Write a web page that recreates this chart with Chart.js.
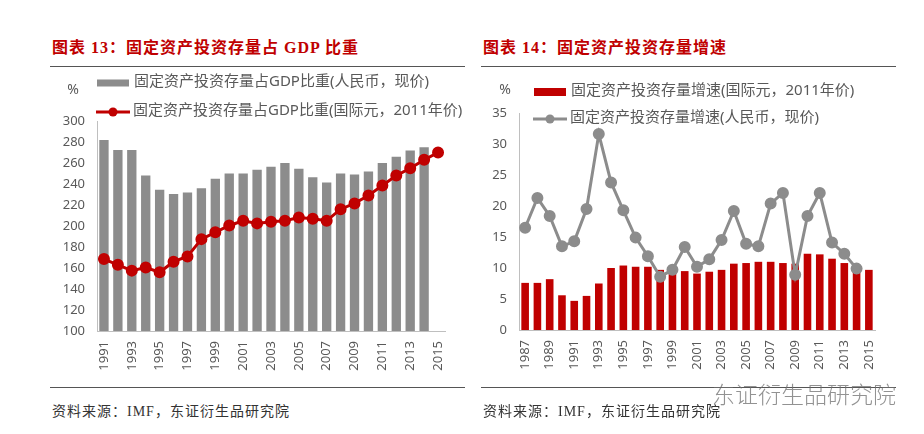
<!DOCTYPE html>
<html>
<head>
<meta charset="utf-8">
<script src="https://cdn.jsdelivr.net/npm/chart.js@4"></script>
<style>
  body { margin: 0; background: #fff; width: 924px; height: 434px; position: relative; overflow: hidden; }
  .title { position: absolute; top: 34px; font: bold 16px "Liberation Serif", "Noto Sans CJK SC"; color: #c00000; letter-spacing: 1px; white-space: nowrap; }
  .rule { position: absolute; height: 0; border-top: 1.5px solid #555; }
  .foot { position: absolute; top: 400px; font: 14px "Liberation Serif", "Noto Sans CJK SC"; color: #333; letter-spacing: 1px; white-space: nowrap; }
  .box { position: absolute; top: 70px; width: 415px; height: 315px; }
  .mark { position: absolute; left: 712px; top: 376px; font: 300 23px "Noto Sans CJK SC"; color: rgba(110,110,110,0.75); white-space: nowrap; }
</style>
</head>
<body>
<div class="title" style="left:52px">图表 13：固定资产投资存量占 GDP 比重</div>
<div class="title" style="left:483px">图表 14：固定资产投资存量增速</div>
<div class="rule" style="left:50px;width:415px;top:66px"></div>
<div class="rule" style="left:481px;width:415px;top:66px"></div>
<div class="box" style="left:50px"><canvas id="left"></canvas></div>
<div class="box" style="left:480px"><canvas id="right"></canvas></div>
<div class="rule" style="left:50px;width:415px;top:387px"></div>
<div class="rule" style="left:481px;width:415px;top:387px"></div>
<div class="foot" style="left:52px">资料来源：IMF，东证衍生品研究院</div>
<div class="foot" style="left:483px">资料来源：IMF，东证衍生品研究院</div>
<div class="mark">东证衍生品研究院</div>
<script>
// 图表13 数据
var years13 = ["1991","1992","1993","1994","1995","1996","1997","1998","1999","2000","2001","2002","2003","2004","2005","2006","2007","2008","2009","2010","2011","2012","2013","2014","2015"];
var shareRmb = [282, 272.5, 272.5, 248, 234.5, 230.5, 232, 236, 245, 250, 250, 253.5, 256.5, 260, 254.5, 246.5, 241.5, 250, 249, 252, 260, 266, 272, 275, null];
var shareIntl = [168.5, 163, 157.5, 160.5, 156, 166, 171, 187.5, 194, 200.5, 205, 202.5, 204, 205, 208, 207, 205, 216, 221.5, 229, 238.5, 248, 255, 263, 270];
var label13a = "固定资产投资存量占GDP比重(人民币，现价)";
var label13b = "固定资产投资存量占GDP比重(国际元，2011年价)";

// 图表14 数据
var years14 = ["1987","1988","1989","1990","1991","1992","1993","1994","1995","1996","1997","1998","1999","2000","2001","2002","2003","2004","2005","2006","2007","2008","2009","2010","2011","2012","2013","2014","2015"];
var growthIntl = [7.6, 7.6, 8.2, 5.6, 4.7, 5.5, 7.5, 10.0, 10.4, 10.2, 10.2, 9.7, 9.5, 9.5, 9.1, 9.4, 9.7, 10.7, 10.8, 11.0, 11.0, 10.8, 10.7, 12.3, 12.2, 11.5, 10.8, 9.9, 9.7];
var growthRmb = [16.5, 21.3, 18.4, 13.5, 14.3, 19.5, 31.6, 23.8, 19.3, 14.9, 11.9, 8.6, 9.7, 13.4, 10.2, 11.4, 14.5, 19.2, 13.9, 13.5, 20.4, 22.1, 8.9, 18.4, 22.1, 14.1, 12.3, 9.9, null];
var label14a = "固定资产投资存量增速(国际元，2011年价)";
var label14b = "固定资产投资存量增速(人民币，现价)";

var GREY = "#8c8c8c";
var RED = "#c00000";
var TXT = "#595959";
var FONT = "'Noto Sans', 'Noto Sans CJK SC'";

// legend + % unit drawn at fixed spots, like the excel original
var legendPlugin = {
  id: "fixedLegend",
  afterDraw: function (chart, args, opts) {
    var ctx = chart.ctx;
    ctx.save();
    ctx.font = "14px " + FONT;
    ctx.fillStyle = TXT;
    ctx.textBaseline = "middle";
    ctx.textAlign = "center";
    ctx.fillText("%", opts.unit[0], opts.unit[1]);
    ctx.textAlign = "left";
    opts.items.forEach(function (it) {
      var ds = chart.data.datasets[it.ds];
      if (ds.type === "bar") {
        ctx.fillStyle = ds.backgroundColor;
        ctx.fillRect(it.x, it.y - it.h / 2, 32, it.h);
      } else {
        ctx.strokeStyle = ds.borderColor;
        ctx.lineWidth = ds.borderWidth;
        ctx.beginPath();
        ctx.moveTo(it.x, it.y);
        ctx.lineTo(it.x + 34, it.y);
        ctx.stroke();
        ctx.fillStyle = ds.pointBackgroundColor;
        ctx.beginPath();
        ctx.arc(it.x + 17, it.y, ds.pointRadius, 0, Math.PI * 2);
        ctx.fill();
      }
      ctx.font = "15px " + FONT;
      ctx.fillStyle = TXT;
      ctx.fillText(ds.label, it.x + 37, it.y - 1);
    });
    ctx.restore();
  }
};

function xAxis(h) {
  return {
    grid: { display: false, drawTicks: false },
    border: { display: true, color: "#bfbfbf", width: 1 },
    ticks: {
      autoSkip: false, maxRotation: 90, minRotation: 90, padding: 10,
      color: TXT, font: { size: 13, family: FONT },
      callback: function (v, i) { return i % 2 === 0 ? this.getLabelForValue(v) : ""; }
    },
    afterFit: function (s) { s.height = h; }
  };
}

function yAxis(min, max, step, w) {
  return {
    min: min, max: max,
    grid: { display: false, drawTicks: false },
    border: { display: true, color: "#bfbfbf", width: 1 },
    ticks: { stepSize: step, padding: 12, color: TXT, font: { size: 13, family: FONT } },
    afterFit: function (s) { s.width = w; }
  };
}

new Chart(document.getElementById("left"), {
  data: {
    labels: years13,
    datasets: [
      { type: "bar", label: label13a, data: shareRmb, backgroundColor: GREY, barPercentage: 0.67, categoryPercentage: 1, order: 1 },
      { type: "line", label: label13b, data: shareIntl, borderColor: RED, borderWidth: 3, pointRadius: 4.5,
        pointBackgroundColor: RED, pointBorderColor: RED, tension: 0, order: 0 }
    ]
  },
  options: {
    responsive: true, maintainAspectRatio: false, animation: false,
    layout: { padding: { top: 51, right: 20, left: 0, bottom: 0 } },
    plugins: {
      legend: { display: false }, tooltip: { enabled: false },
      fixedLegend: {
        unit: [23, 20],
        items: [ { ds: 0, x: 47, y: 13, h: 7 }, { ds: 1, x: 46, y: 42 } ]
      }
    },
    scales: { x: xAxis(54), y: yAxis(100, 300, 20, 47) }
  },
  plugins: [legendPlugin]
});

new Chart(document.getElementById("right"), {
  data: {
    labels: years14,
    datasets: [
      { type: "bar", label: label14a, data: growthIntl, backgroundColor: RED, barPercentage: 0.62, categoryPercentage: 1, order: 1 },
      { type: "line", label: label14b, data: growthRmb, borderColor: GREY, borderWidth: 3, pointRadius: 4.5,
        pointBackgroundColor: GREY, pointBorderColor: GREY, tension: 0, order: 0 }
    ]
  },
  options: {
    responsive: true, maintainAspectRatio: false, animation: false,
    layout: { padding: { top: 43, right: 20, left: 0, bottom: 0 } },
    plugins: {
      legend: { display: false }, tooltip: { enabled: false },
      fixedLegend: {
        unit: [25, 20],
        items: [ { ds: 0, x: 54, y: 22, h: 8 }, { ds: 1, x: 53, y: 49 } ]
      }
    },
    scales: { x: xAxis(55), y: yAxis(0, 35, 5, 39) }
  },
  plugins: [legendPlugin]
});
</script>
</body>
</html>
